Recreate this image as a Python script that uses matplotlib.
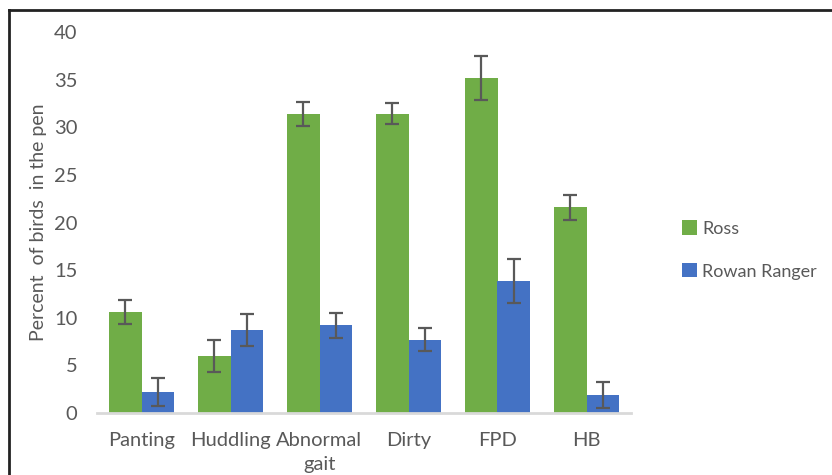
import matplotlib
matplotlib.use("Agg")
import matplotlib.pyplot as plt
from matplotlib.lines import Line2D
import numpy as np

categories = ["Panting", "Huddling", "Abnormal\ngait", "Dirty", "FPD", "HB"]
ross = [10.6, 6.0, 31.4, 31.4, 35.2, 21.6]
ross_err = [1.3, 1.7, 1.25, 1.1, 2.3, 1.3]
rowan = [2.2, 8.7, 9.2, 7.7, 13.9, 1.9]
rowan_err = [1.45, 1.7, 1.35, 1.2, 2.3, 1.35]
yticks = [0, 5, 10, 15, 20, 25, 30, 35, 40]

plt.rcParams['font.family'] = ['Lato', 'DejaVu Sans']

txt = '#595959'
fig = plt.figure(figsize=(8.32, 4.75), dpi=100)
ax = fig.add_axes([97/832, 1-413/475, (631-97)/832, (413-32)/475])

x = np.arange(len(categories))
w = 0.36
ekw = dict(ecolor='#595959', elinewidth=1.6, capsize=5, capthick=1.6)
ax.bar(x - w/2, ross, w, color='#70AD47', label='Ross', yerr=ross_err, error_kw=ekw, zorder=2)
ax.bar(x + w/2, rowan, w, color='#4472C4', label='Rowan Ranger', yerr=rowan_err, error_kw=ekw, zorder=2)

ax.set_xlim(-0.5, len(categories) - 0.5)
ax.set_ylim(0, 40)
ax.set_yticks(yticks)
ax.set_xticks(x)
ax.set_xticklabels(categories, linespacing=1.5)
for s in ['top', 'right', 'left']:
    ax.spines[s].set_visible(False)
ax.spines['bottom'].set_color('#D9D9D9')
ax.spines['bottom'].set_linewidth(2)
ax.tick_params(axis='both', length=0, labelsize=14.5, colors=txt)
ax.tick_params(axis='y', pad=14)
ax.tick_params(axis='x', pad=14)
ax.set_ylabel('Percent  of birds  in the pen', fontsize=14, color=txt, labelpad=5)

leg = ax.legend(loc='center left', bbox_to_anchor=(673/832, 1-250/475), bbox_transform=fig.transFigure,
                frameon=False, fontsize=13, handlelength=0.85, handleheight=0.85, handletextpad=0.25,
                labelspacing=1.45, borderpad=0)
for t in leg.get_texts():
    t.set_color(txt)

fig.add_artist(Line2D([9/832, 1], [1-10/475, 1-10/475], transform=fig.transFigure, color='#222222', lw=2))
fig.add_artist(Line2D([9/832, 9/832], [0, 1-10/475], transform=fig.transFigure, color='#222222', lw=2))

fig.savefig('out.png', dpi=100)
